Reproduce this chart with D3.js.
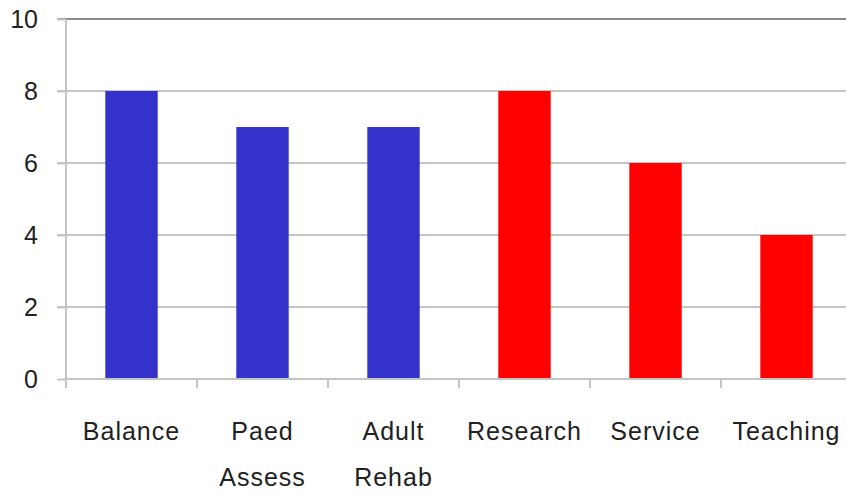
<!DOCTYPE html>
<html>
<head>
<meta charset="utf-8">
<script src="https://cdn.jsdelivr.net/npm/d3@7"></script>
<style>
  html, body { margin: 0; padding: 0; background: #fff; }
  svg { display: block; }
  .label { font-family: Arial, "Liberation Sans", sans-serif; font-size: 25px; fill: #222; }
</style>
</head>
<body>
<div id="chart"></div>
<script>
// Chart data.
var categories = ['Balance', 'Paed Assess', 'Adult Rehab', 'Research', 'Service', 'Teaching'];
var values = [8, 7, 7, 8, 6, 4];
var groups = ['a', 'a', 'a', 'b', 'b', 'b'];
var y_ticks = [0, 2, 4, 6, 8, 10];

var width = 846, height = 493;
var m_left = 66, m_top = 19, m_bottom = 379, m_right = 852;

var colour = { a: '#3333cc', b: '#ff0000' };

var svg = d3.select('#chart').append('svg')
    .attr('width', width)
    .attr('height', height);

var x = d3.scaleBand().domain(categories).range([m_left, m_right]).paddingInner(0).paddingOuter(0);
var y = d3.scaleLinear().domain([0, 10]).range([m_bottom, m_top]);

// Horizontal gridlines, including the small tick stub left of the axis.
svg.append('g').selectAll('line')
    .data(y_ticks.filter(function(d) { return d > 0; }))
    .enter().append('line')
    .attr('x1', m_left - 9)
    .attr('x2', width)
    .attr('y1', function(d) { return y(d); })
    .attr('y2', function(d) { return y(d); })
    .attr('stroke', function(d) { return d === 10 ? '#8a8a8a' : '#c4c4c4'; })
    .attr('stroke-width', 2);

// Bars.
var bar_w = x.bandwidth() * 0.4;
svg.append('g').selectAll('rect')
    .data(categories)
    .enter().append('rect')
    .attr('x', function(d) { return x(d) + (x.bandwidth() - bar_w) / 2; })
    .attr('y', function(d, i) { return y(values[i]); })
    .attr('width', bar_w)
    .attr('height', function(d, i) { return y(0) - y(values[i]); })
    .attr('fill', function(d, i) { return colour[groups[i]]; });

// Y axis.
var y_axis = d3.axisLeft(y).tickValues(y_ticks).tickSize(9).tickPadding(19);
var gy = svg.append('g')
    .attr('transform', 'translate(' + m_left + ',0)')
    .call(y_axis);
gy.select('.domain').attr('stroke', '#c4c4c4').attr('stroke-width', 2)
    .attr('d', 'M0,' + (m_bottom + 9) + 'V' + m_top);
gy.selectAll('.tick line').attr('stroke', '#c4c4c4').attr('stroke-width', 2);
gy.selectAll('.tick text')
    .attr('class', 'label')
    .attr('dy', '0.35em');

// X axis: tick marks at category boundaries.
var gx = svg.append('g');
gx.append('line')
    .attr('x1', m_left).attr('x2', width)
    .attr('y1', m_bottom).attr('y2', m_bottom)
    .attr('stroke', '#c4c4c4').attr('stroke-width', 2);
gx.selectAll('line.tk')
    .data(categories)
    .enter().append('line')
    .attr('class', 'tk')
    .attr('x1', function(d) { return x(d); })
    .attr('x2', function(d) { return x(d); })
    .attr('y1', m_bottom)
    .attr('y2', m_bottom + 9)
    .attr('stroke', '#c4c4c4').attr('stroke-width', 2);

// Category labels, split onto two lines.
var lab = gx.selectAll('text')
    .data(categories)
    .enter().append('text')
    .attr('class', 'label')
    .attr('text-anchor', 'middle')
    .style('letter-spacing', '1px')
    .attr('y', 440);
lab.selectAll('tspan')
    .data(function(d) {
        var cx = x(d) + x.bandwidth() / 2;
        return d.split(' ').map(function(w) { return { w: w, cx: cx }; });
    })
    .enter().append('tspan')
    .attr('x', function(d) { return d.cx; })
    .attr('dy', function(d, i) { return i === 0 ? 0 : 46; })
    .text(function(d) { return d.w; });
</script>
</body>
</html>
